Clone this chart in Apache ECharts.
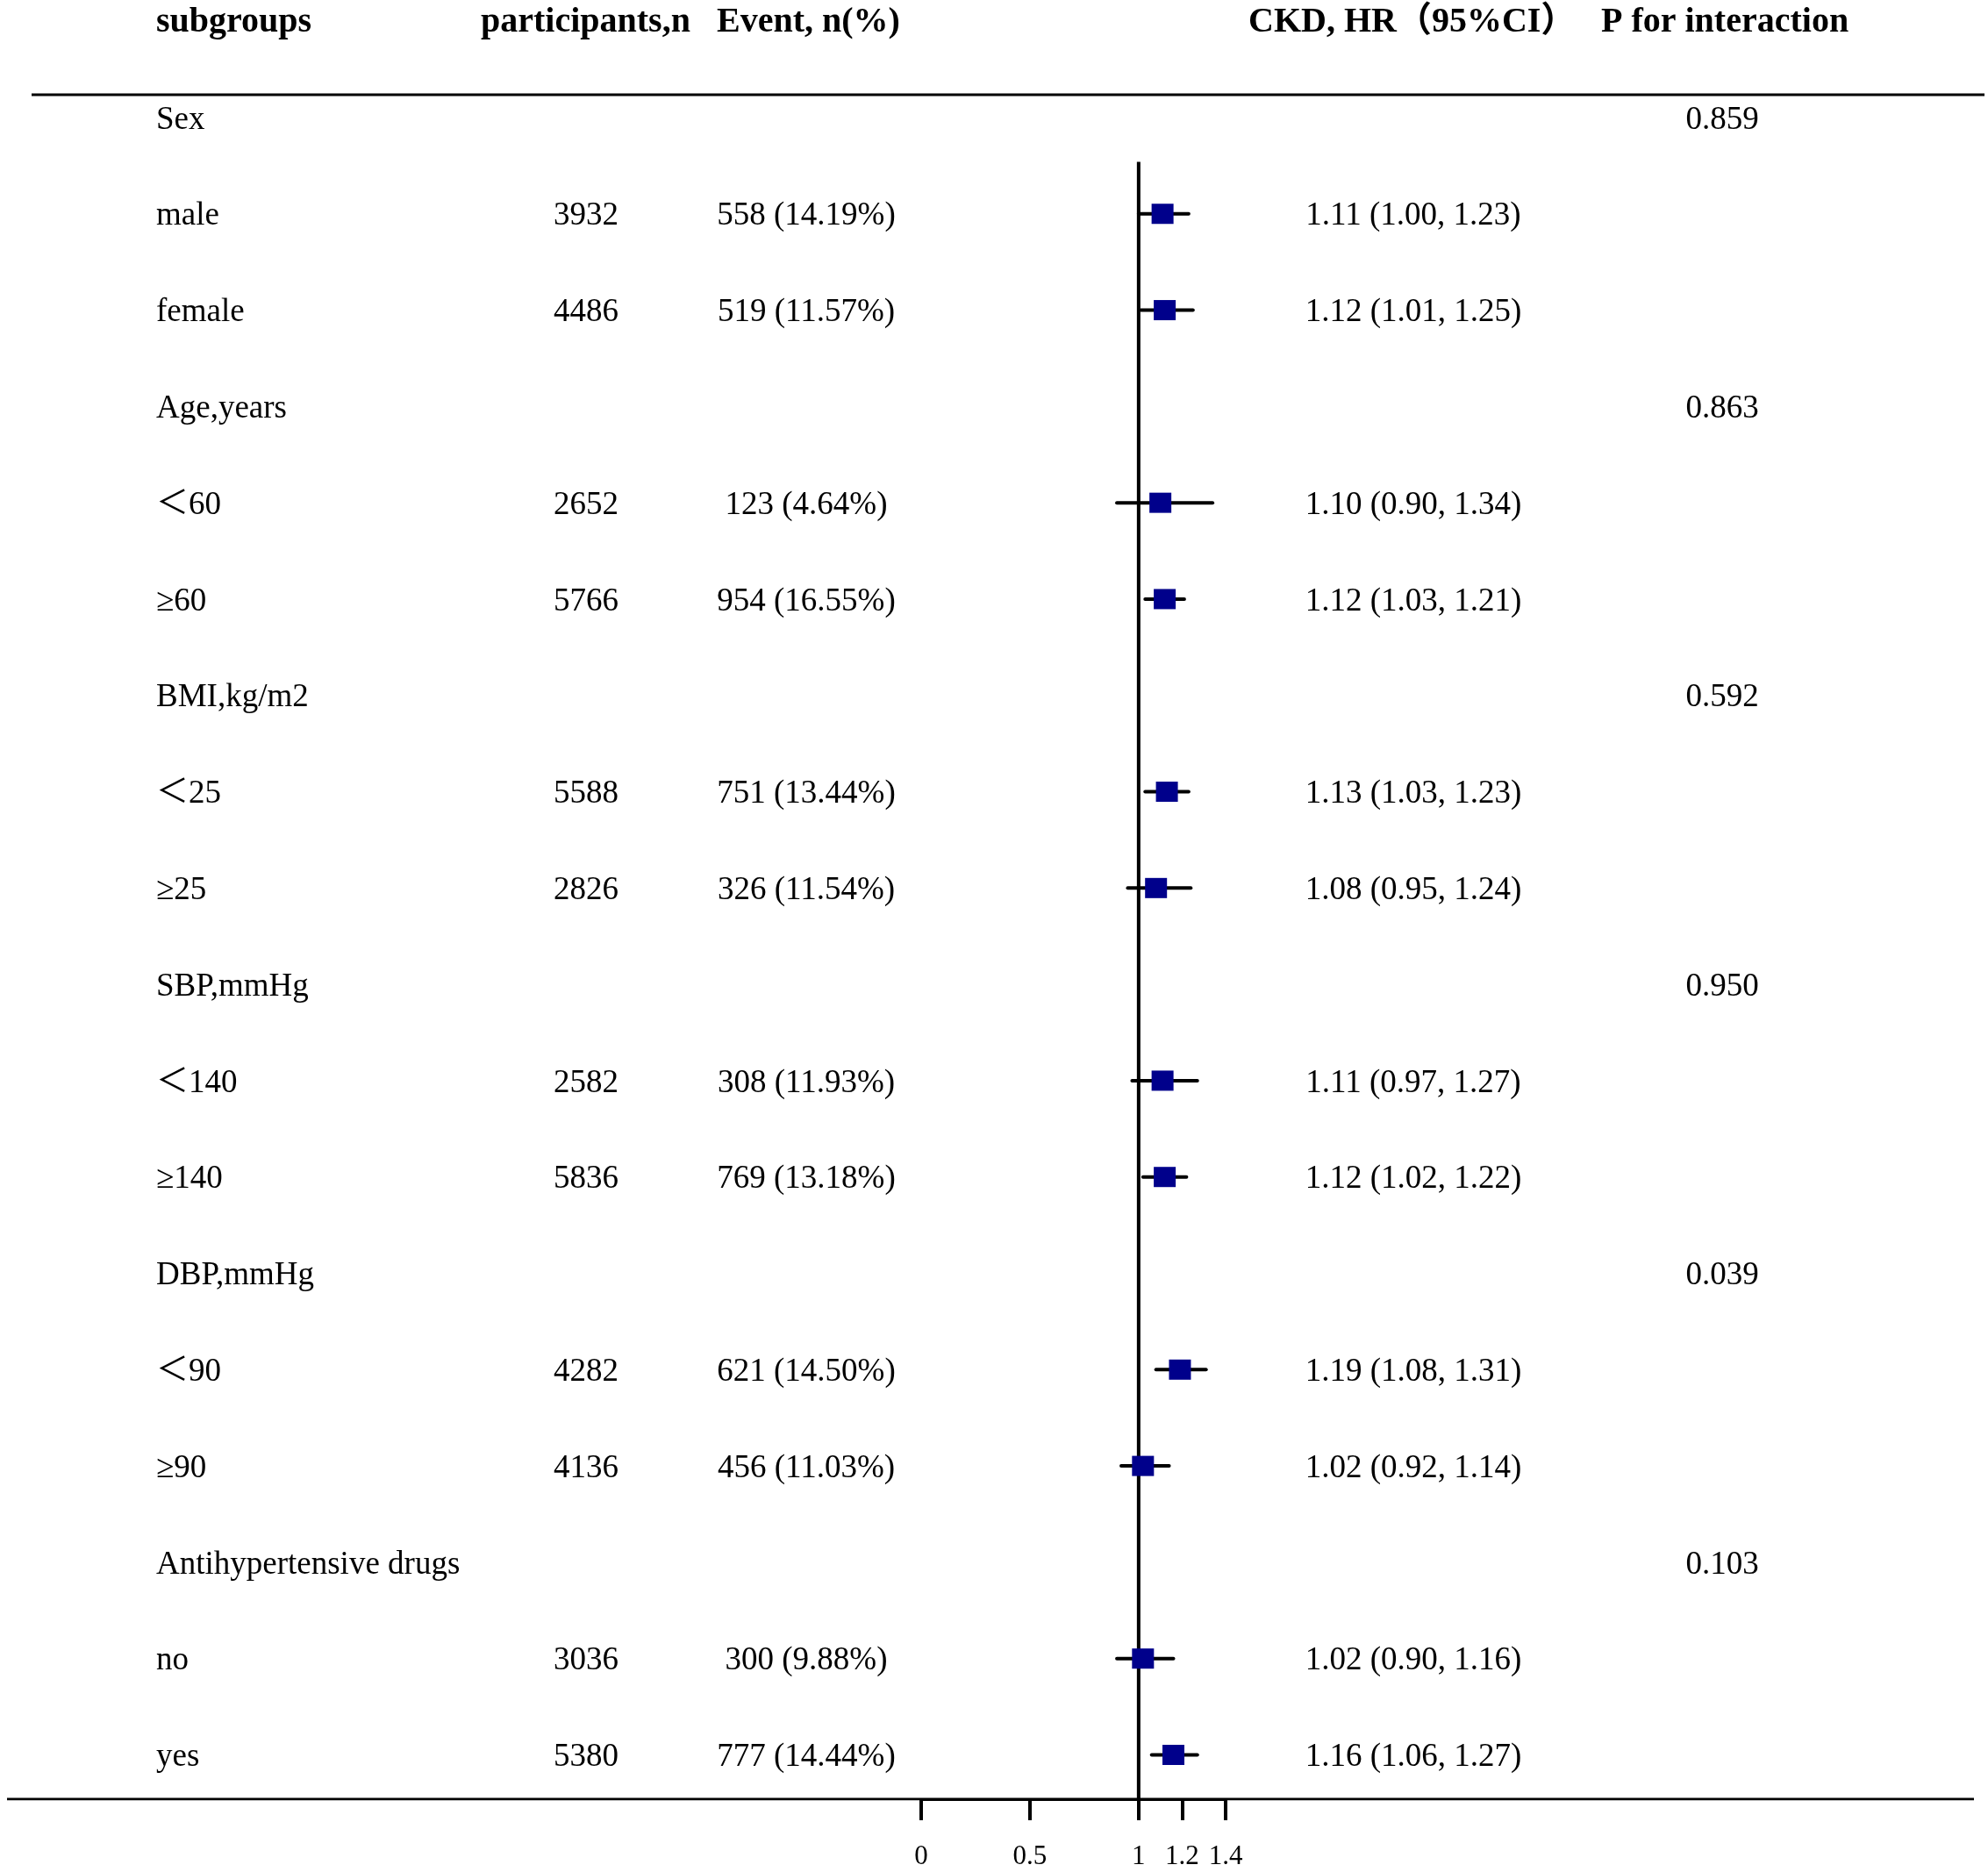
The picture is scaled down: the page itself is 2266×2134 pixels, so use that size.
<!DOCTYPE html>
<html lang="en">
<head>
<meta charset="UTF-8">
<title>CKD subgroup forest plot</title>
<script src="https://cdn.jsdelivr.net/npm/echarts@6.0.0/dist/echarts.min.js"></script>
<style>
    html, body { margin: 0; padding: 0; background: #fff; }
    #chart { width: 2266px; height: 2134px; }
</style>
</head>
<body>
<div id="chart"></div>
<script>
    // table data, one entry per row (null = group heading row)
    var headers = ['subgroups', 'participants,n', 'Event, n(%)', 'CKD, HR（95%CI）', 'P for interaction'];
    var subgroups = ['Sex', 'male', 'female', 'Age,years', '＜60', '≥60', 'BMI,kg/m2', '＜25', '≥25',
        'SBP,mmHg', '＜140', '≥140', 'DBP,mmHg', '＜90', '≥90', 'Antihypertensive drugs', 'no', 'yes'];
    var participants = [null, 3932, 4486, null, 2652, 5766, null, 5588, 2826, null, 2582, 5836, null, 4282, 4136, null, 3036, 5380];
    var eventN = [null, 558, 519, null, 123, 954, null, 751, 326, null, 308, 769, null, 621, 456, null, 300, 777];
    var eventPct = [null, '14.19', '11.57', null, '4.64', '16.55', null, '13.44', '11.54', null, '11.93', '13.18', null, '14.50', '11.03', null, '9.88', '14.44'];
    var hr = [null, 1.11, 1.12, null, 1.10, 1.12, null, 1.13, 1.08, null, 1.11, 1.12, null, 1.19, 1.02, null, 1.02, 1.16];
    var hrLow = [null, 1.00, 1.01, null, 0.90, 1.03, null, 1.03, 0.95, null, 0.97, 1.02, null, 1.08, 0.92, null, 0.90, 1.06];
    var hrHigh = [null, 1.23, 1.25, null, 1.34, 1.21, null, 1.23, 1.24, null, 1.27, 1.22, null, 1.31, 1.14, null, 1.16, 1.27];
    var pInteraction = ['0.859', null, null, '0.863', null, null, '0.592', null, null, '0.950', null, null, '0.039', null, null, '0.103', null, null];
    var axisTicks = [0, 0.5, 1, 1.2, 1.4];

    var serif = '"Liberation Serif", "Noto Sans CJK SC", serif';
    var bodyFont = '37px ' + serif;
    var headFont = 'bold 40px ' + serif;

    // build text items [x, row, text]
    var headRow = -1.01;
    var headX = [178, 548, 817, 1423, 1825];
    var headItems = [], labelItems = [], partItems = [], eventItems = [], hrItems = [], pItems = [];
    var ciData = [], pointData = [];
    for (var h = 0; h < headers.length; h++) headItems.push([headX[h], headRow, headers[h]]);
    for (var i = 0; i < subgroups.length; i++) {
        labelItems.push([178, i, subgroups[i]]);
        if (participants[i] != null) partItems.push([705, i, String(participants[i])]);
        if (eventN[i] != null) eventItems.push([919, i, eventN[i] + ' (' + eventPct[i] + '%)']);
        if (hr[i] != null) {
            hrItems.push([1611, i, hr[i].toFixed(2) + ' (' + hrLow[i].toFixed(2) + ', ' + hrHigh[i].toFixed(2) + ')']);
            ciData.push([hrLow[i], hrHigh[i], i]);
            pointData.push([hr[i], i]);
        }
        if (pInteraction[i] != null) pItems.push([1963, i, pInteraction[i]]);
    }

    function textSeries(items, align, font) {
        return {
            type: 'custom',
            xAxisIndex: 1, yAxisIndex: 1,
            silent: true,
            data: items.map(function (d) { return [d[0], d[1]]; }),
            renderItem: function (params, api) {
                var p = api.coord([api.value(0), api.value(1)]);
                return {
                    type: 'text', x: p[0], y: p[1] + 3,
                    style: { text: items[params.dataIndex][2], font: font, align: align, verticalAlign: 'middle', fill: '#000' }
                };
            }
        };
    }

    var yMin = -1.22, yMax = 17.46;
    var chart = echarts.init(document.getElementById('chart'), null, { renderer: 'canvas' });
    var option = {
        backgroundColor: '#fff',
        animation: false,
        grid: [
            { left: 1050, width: 347, top: 0, height: 2051 },
            { left: 0, right: 0, top: 0, height: 2051 }
        ],
        xAxis: [
            {
                gridIndex: 0, type: 'value', min: 0, max: 1.4, position: 'bottom',
                axisLine: { show: true, onZero: false, lineStyle: { color: '#000', width: 3 } },
                axisTick: { show: true, customValues: axisTicks, length: 24, lineStyle: { color: '#000', width: 4 } },
                axisLabel: { customValues: axisTicks, margin: 50, color: '#000', fontSize: 31, fontFamily: serif },
                splitLine: { show: false }
            },
            { gridIndex: 1, type: 'value', min: 0, max: 2266, show: false }
        ],
        yAxis: [
            { gridIndex: 0, type: 'value', inverse: true, min: yMin, max: yMax, show: false },
            { gridIndex: 1, type: 'value', inverse: true, min: yMin, max: yMax, show: false }
        ],
        series: [
            // table rules
            {
                type: 'line', xAxisIndex: 1, yAxisIndex: 1, symbol: 'none', silent: true,
                lineStyle: { color: '#000', width: 3 },
                data: [[36, -0.237], [2262, -0.237]]
            },
            {
                type: 'line', xAxisIndex: 1, yAxisIndex: 1, symbol: 'none', silent: true,
                lineStyle: { color: '#000', width: 3 },
                data: [[8, yMax], [2250, yMax]]
            },
            // reference line at HR = 1
            {
                type: 'line', xAxisIndex: 0, yAxisIndex: 0, symbol: 'none', silent: true,
                lineStyle: { color: '#000', width: 4 },
                data: [[1, 0.46], [1, yMax]]
            },
            // confidence intervals
            {
                type: 'custom', xAxisIndex: 0, yAxisIndex: 0, silent: true,
                data: ciData,
                renderItem: function (params, api) {
                    var a = api.coord([api.value(0), api.value(2)]);
                    var b = api.coord([api.value(1), api.value(2)]);
                    return {
                        type: 'line',
                        shape: { x1: a[0], y1: a[1], x2: b[0], y2: b[1] },
                        style: { stroke: '#000', lineWidth: 4, lineCap: 'round' }
                    };
                },
                z: 3
            },
            // point estimates
            {
                type: 'scatter', xAxisIndex: 0, yAxisIndex: 0,
                symbol: 'rect', symbolSize: [25, 23],
                itemStyle: { color: '#00008B', opacity: 1 },
                data: pointData,
                z: 4
            },
            textSeries(headItems, 'left', headFont),
            textSeries(labelItems, 'left', bodyFont),
            textSeries(partItems, 'right', bodyFont),
            textSeries(eventItems, 'center', bodyFont),
            textSeries(hrItems, 'center', bodyFont),
            textSeries(pItems, 'center', bodyFont)
        ]
    };
    chart.setOption(option);
</script>
</body>
</html>
